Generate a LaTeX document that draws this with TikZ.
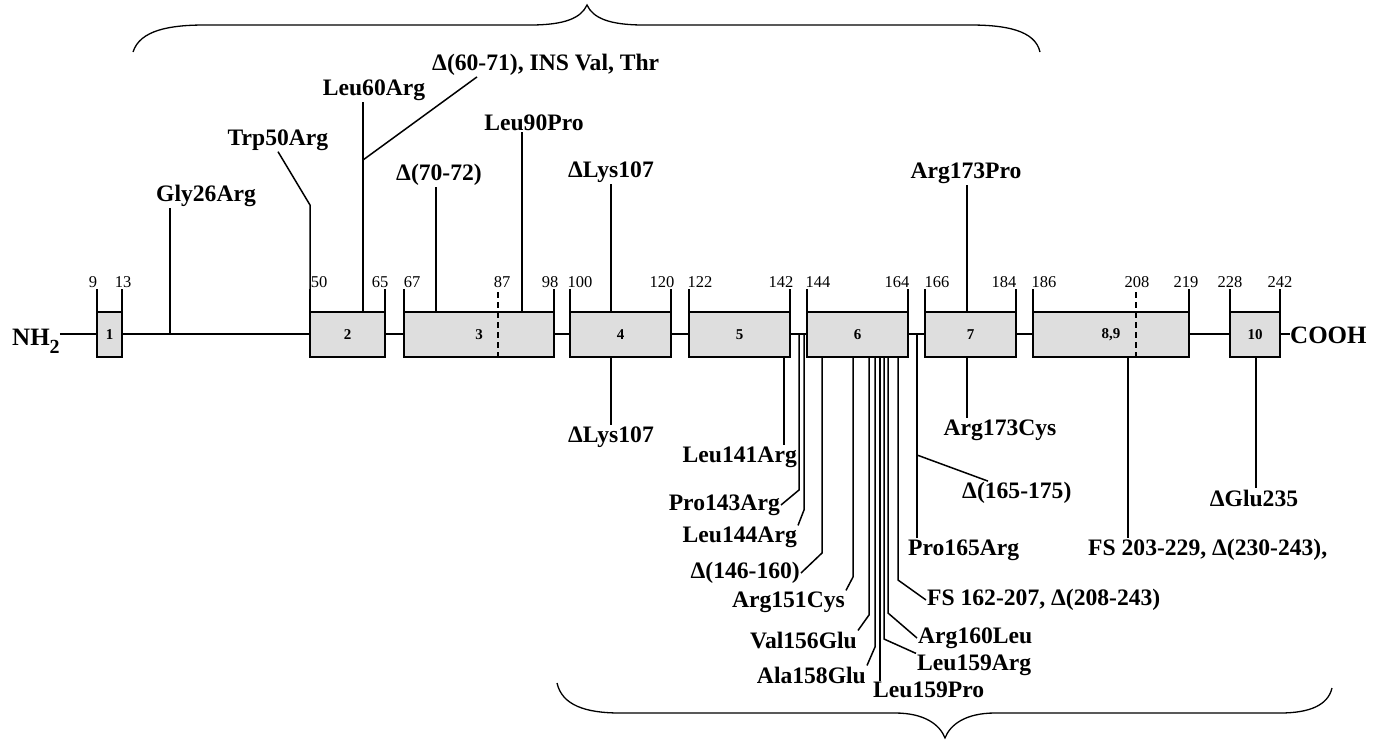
\documentclass[tikz,border=0pt]{standalone}
\usepackage{fontspec}
\setmainfont{Liberation Serif}
\usetikzlibrary{calc}

\begin{document}
\begin{tikzpicture}[x=1pt,y=-1pt,line join=miter,
  ln/.style={line width=1.5pt},
  exon/.style={draw,line width=1.5pt,fill=black!13,minimum height=45pt,
    inner sep=0pt,outer sep=0pt,font=\fontsize{15}{15}\selectfont\bfseries},
  mut/.style={font=\fontsize{23.6}{26}\selectfont\bfseries,inner sep=1pt},
  term/.style={font=\fontsize{25}{26}\selectfont\bfseries,inner sep=0pt},
  resnum/.style={font=\fontsize{16.5}{18}\selectfont,inner sep=0pt},
  cut/.style={line width=2.5pt,dash pattern=on 6pt off 4pt},
  brace/.style={line width=1.3pt}]
  \useasboundingbox (0,0) rectangle (1377,740);

  % chain ends and backbone
  \coordinate (bb) at (0,334);
  \node[term,anchor=base west] (nh) at (12,345)
    {NH\raisebox{-8pt}{\fontsize{20}{20}\selectfont 2}};
  \node[term,anchor=west] (cooh) at (1290,335) {COOH};
  \draw[ln] (nh.east |- bb) -- (cooh.west |- bb);

  % exons
  \node[exon,minimum width=25pt] (e1) at (109.5,334.5) {1};
  \node[exon,minimum width=75pt] (e2) at (347.5,334.5) {2};
  \node[exon,minimum width=150pt] (e3) at (479,334.5) {3};
  \node[exon,minimum width=101pt] (e4) at (620.5,334.5) {4};
  \node[exon,minimum width=101pt] (e5) at (739.5,334.5) {5};
  \node[exon,minimum width=101pt] (e6) at (857.5,334.5) {6};
  \node[exon,minimum width=91pt] (e7) at (970.5,334.5) {7};
  \node[exon,minimum width=156pt] (e89) at (1111,334.5) {8,9};
  \node[exon,minimum width=50pt] (e10) at (1255,334.5) {10};
  \foreach \b in {e1,e2,e3,e4,e5,e6,e7,e89,e10}
    \draw[ln] (\b.north west) -- ++(0,-23) (\b.north east) -- ++(0,-23);

  % residue numbers
  \foreach \x/\lab in {93/9,123/13,319/50,380/65,412/67,502/87,550/98,
      580/100,662/120,700/122,781/142,818/144,897/164,937/166,1004/184,
      1044/186,1137/208,1186/219,1230/228,1280/242}
    \node[resnum] (p\lab) at (\x,282) {\lab};
  \coordinate (d87) at (498,292);
  \coordinate (d208) at (1136,292);
  \draw[cut] (d87) -- (d87 |- e3.south);
  \draw[cut] (d208) -- (d208 |- e89.south);

  % mutation sites
  \foreach \n/\x in {26/170,50/310,60/363,70/436,90/522,107/611,141/784,
      143/799,144/804,146/822,151/853,156/869,158/875,159/880,159r/884,
      160/888,162/898,165/917,173/967,203/1128,235/1256}
    \coordinate (r\n) at (\x,0);

  % labels above the chain
  \node[mut] (gly26) at (206,196) {Gly26Arg};
  \node[mut] (trp50) at (278,140) {Trp50Arg};
  \node[mut] (leu60) at (374,90) {Leu60Arg};
  \node[mut,anchor=west] (del60) at (431,65) {Δ(60-71), INS Val, Thr};
  \node[mut] (del70) at (439,175) {Δ(70-72)};
  \node[mut] (leu90) at (534,123) {Leu90Pro};
  \node[mut] (lys107a) at (611,172) {ΔLys107};
  \node[mut] (arg173a) at (966,173) {Arg173Pro};

  % labels below the chain
  \node[mut] (lys107b) at (611,437) {ΔLys107};
  \node[mut,anchor=east] (leu141) at (798,457) {Leu141Arg};
  \node[mut,anchor=east] (pro143) at (781,505) {Pro143Arg};
  \node[mut,anchor=east] (leu144) at (798,537) {Leu144Arg};
  \node[mut,anchor=east] (del146) at (801,573) {Δ(146-160)};
  \node[mut,anchor=east] (arg151) at (846,602) {Arg151Cys};
  \node[mut,anchor=east] (val156) at (858,640) {Val156Glu};
  \node[mut,anchor=east] (ala158) at (867,675) {Ala158Glu};
  \node[mut,anchor=west] (leu159p) at (872,690) {Leu159Pro};
  \node[mut,anchor=west] (leu159r) at (916,665) {Leu159Arg};
  \node[mut,anchor=west] (arg160) at (917,638) {Arg160Leu};
  \node[mut,anchor=west] (fs162) at (926,600) {FS 162-207, Δ(208-243)};
  \node[mut,anchor=west] (pro165) at (907,550) {Pro165Arg};
  \node[mut,anchor=west] (del165) at (961,493) {Δ(165-175)};
  \node[mut] (arg173b) at (1000,430) {Arg173Cys};
  \node[mut,anchor=west] (fs203) at (1087,550) {FS 203-229, Δ(230-243),};
  \node[mut] (glu235) at (1254,498) {ΔGlu235};

  % connectors
  \draw[ln] (r26 |- bb) -- (r26 |- gly26.south);
  \draw[ln] (r50 |- e2.north) -- ++(0,-107) -- (trp50.south);
  \draw[ln] (r60 |- e2.north) -- (r60 |- leu60.south);
  \draw[ln] (r60 |- e2.north) ++(0,-152) -- ($(del60.south west)+(46,0)$);
  \draw[ln] (r70 |- e3.north) -- (r70 |- del70.south);
  \draw[ln] (r90 |- e3.north) -- (r90 |- leu90.south);
  \draw[ln] (r107 |- e4.north) -- (r107 |- lys107a.south);
  \draw[ln] (r173 |- e7.north) -- (r173 |- arg173a.south);
  \draw[ln] (r107 |- e4.south) -- (r107 |- lys107b.north);
  \draw[ln] (r141 |- e5.south) -- (r141 |- leu141.north);
  \draw[ln] (r143 |- bb) -- ++(0,156) -- (pro143.east);
  \draw[ln] (r144 |- bb) -- ++(0,176) -- (leu144.north east);
  \draw[ln] (r146 |- e6.south) -- ++(0,196) -- (del146.east);
  \draw[ln] (r151 |- e6.south) -- ++(0,220) -- (arg151.north east);
  \draw[ln] (r156 |- e6.south) -- ++(0,258) -- (val156.north east);
  \draw[ln] (r158 |- e6.south) -- ++(0,290) -- (ala158.north east);
  \draw[ln] (r159 |- e6.south) -- (r159 |- leu159p.north);
  \draw[ln] (r159r |- e6.south) -- ++(0,282) -- (leu159r.north west);
  \draw[ln] (r160 |- e6.south) -- ++(0,256) -- (arg160.west);
  \draw[ln] (r162 |- e6.south) -- ++(0,223) -- (fs162.west);
  \draw[ln] (r165 |- bb) -- (r165 |- pro165.north);
  \draw[ln] (r165 |- bb) ++(0,121) -- ($(del165.north west)+(27,0)$);
  \draw[ln] (r173 |- e7.south) -- (r173 |- arg173b.north);
  \draw[ln] (r203 |- e89.south) -- (r203 |- fs203.north);
  \draw[ln] (r235 |- e10.south) -- (r235 |- glu235.north);

  % braces
  \draw[brace] (133,52) .. controls (140,30) and (170,25) .. (205,25) -- (530,25)
    .. controls (565,25) and (581,18) .. (587,5)
    .. controls (593,18) and (609,25) .. (644,25) -- (970,25)
    .. controls (1005,25) and (1035,30) .. (1040,52);
  \draw[brace] (557,683) .. controls (562,705) and (585,713) .. (620,713) -- (895,713)
    .. controls (925,713) and (940,725) .. (945,738)
    .. controls (950,725) and (965,713) .. (995,713) -- (1280,713)
    .. controls (1310,713) and (1328,705) .. (1332,688);
\end{tikzpicture}
\end{document}
